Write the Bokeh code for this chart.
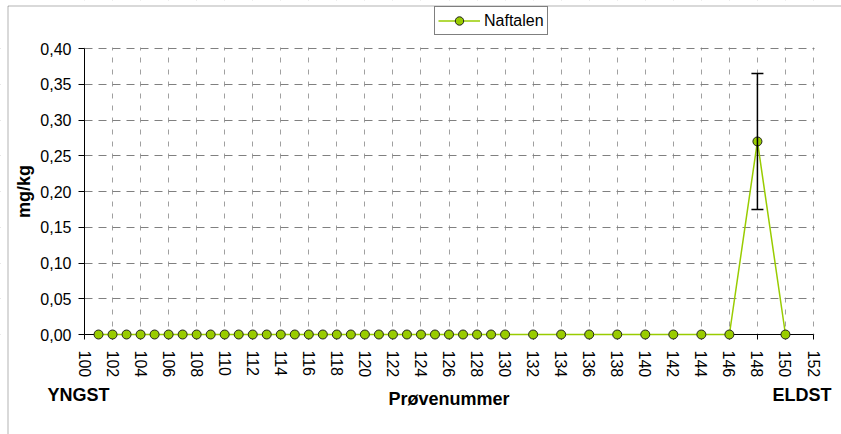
from bokeh.plotting import figure
from bokeh.models import (Range1d, FixedTicker, CustomJSTickFormatter, Legend, LegendItem,
                          Whisker, ColumnDataSource, TeeHead, BoxAnnotation, Label)
from bokeh.embed import file_html
from bokeh.resources import INLINE
import math

# ---- data ----
sample_no = [101, 102, 103, 104, 105, 106, 107, 108, 109, 110,
             111, 112, 113, 114, 115, 116, 117, 118, 119, 120,
             121, 122, 123, 124, 125, 126, 127, 128, 129, 130,
             132, 134, 136, 138, 140, 142, 144, 146, 148, 150]
naftalen = [0.0, 0.0, 0.0, 0.0, 0.0, 0.0, 0.0, 0.0, 0.0, 0.0,
            0.0, 0.0, 0.0, 0.0, 0.0, 0.0, 0.0, 0.0, 0.0, 0.0,
            0.0, 0.0, 0.0, 0.0, 0.0, 0.0, 0.0, 0.0, 0.0, 0.0,
            0.0, 0.0, 0.0, 0.0, 0.0, 0.0, 0.0, 0.0, 0.27, 0.0]
err_x = [148]
err_upper = [0.365]
err_lower = [0.175]

x_ticks = [100, 102, 104, 106, 108, 110, 112, 114, 116, 118, 120, 122, 124, 126,
           128, 130, 132, 134, 136, 138, 140, 142, 144, 146, 148, 150, 152]
x_tick_labels = ["100", "102", "104", "106", "108", "110", "112", "114", "116", "118",
                 "120", "122", "124", "126", "128", "130", "132", "134", "136", "138",
                 "140", "142", "144", "146", "148", "150", "152"]
y_ticks = [0.0, 0.05, 0.1, 0.15, 0.2, 0.25, 0.3, 0.35, 0.4]
y_tick_labels = ["0,00", "0,05", "0,10", "0,15", "0,20", "0,25", "0,30", "0,35", "0,40"]

series_name = "Naftalen"
x_title = "Prøvenummer"
y_title = "mg/kg"
left_note = "YNGST"
right_note = "ELDST"

FONT = "Liberation Sans"
GREEN = "#99CC00"

# ---- layout (pixels) ----
W, H = 841, 434
X0, X1 = x_ticks[0], x_ticks[-1]          # axis span
Y0, Y1 = y_ticks[0], y_ticks[-1]
PX_L, PX_R = 84, 813                       # pixel position of X0, X1
PY_B, PY_T = 334, 48                       # pixel position of Y0, Y1
sx = (PX_R - PX_L) / (X1 - X0)
sy = (PY_B - PY_T) / (Y1 - Y0)
x_lo, x_hi = X0 - PX_L / sx, X1 + (W - PX_R) / sx
y_lo, y_hi = Y0 - (H - PY_B) / sy, Y1 + PY_T / sy


def px_x(px):
    return x_lo + px / sx


def px_y(py):
    return y_hi - py / sy


p = figure(width=W, height=H, output_backend="svg", toolbar_location=None,
           x_range=Range1d(x_lo, x_hi), y_range=Range1d(y_lo, y_hi),
           min_border=0, min_border_left=0, min_border_right=0,
           min_border_top=0, min_border_bottom=0)
p.outline_line_color = None
p.background_fill_color = "white"
p.border_fill_color = "white"

# grids
p.xgrid.ticker = FixedTicker(ticks=x_ticks)
p.xgrid.grid_line_color = "#A0A0A0"
p.xgrid.grid_line_dash = "5 7"
p.ygrid.ticker = FixedTicker(ticks=y_ticks)
p.ygrid.grid_line_color = "#808080"
p.ygrid.grid_line_dash = "8 6"

# white masks so the grid only covers the data area
for kw in (dict(right=X0), dict(left=X1 + 1.0 / sx), dict(bottom=Y1 + 1.0 / sy), dict(top=Y0)):
    p.add_layout(BoxAnnotation(fill_color="white", fill_alpha=1, line_color=None,
                               level="underlay", **kw))

# outer chart border
p.add_layout(BoxAnnotation(left=px_x(7.5), top=px_y(5.5), right=x_hi + 5, bottom=y_lo - 1,
                           fill_alpha=0, line_color="black", line_width=1, level="annotation"))

# x axis
xa = p.xaxis[0]
xa.fixed_location = 0
xa.bounds = (X0, X1)
xa.ticker = FixedTicker(ticks=x_ticks)
xa.major_label_overrides = {t: l for t, l in zip(x_ticks, x_tick_labels)}
xa.major_label_orientation = -math.pi / 2
xa.major_tick_in = 0
xa.major_tick_out = 5
xa.minor_tick_out = 0
xa.minor_tick_in = 0
xa.major_label_standoff = 11
xa.major_label_text_font = FONT
xa.major_label_text_font_size = "16px"
xa.major_label_text_color = "black"
xa.axis_line_color = "black"
xa.major_tick_line_color = "black"
xa.axis_label = x_title
xa.axis_label_text_font = FONT
xa.axis_label_text_font_size = "18px"
xa.axis_label_text_font_style = "bold"
xa.axis_label_text_color = "black"
xa.axis_label_standoff = 9

# y axis
ya = p.yaxis[0]
ya.fixed_location = X0
ya.bounds = (Y0, Y1)
ya.ticker = FixedTicker(ticks=y_ticks)
ya.formatter = CustomJSTickFormatter(code="return tick.toFixed(2).replace('.', ',');")
ya.major_label_overrides = {t: l for t, l in zip(y_ticks, y_tick_labels)}
ya.major_tick_in = 0
ya.major_tick_out = 6
ya.minor_tick_out = 0
ya.minor_tick_in = 0
ya.major_label_standoff = 7
ya.major_label_text_font = FONT
ya.major_label_text_font_size = "16px"
ya.major_label_text_color = "black"
ya.axis_line_color = "black"
ya.axis_label = y_title
ya.axis_label_text_font = FONT
ya.axis_label_text_font_size = "18px"
ya.axis_label_text_font_style = "bold"
ya.axis_label_text_color = "black"
ya.axis_label_standoff = 3

# series
src = ColumnDataSource(dict(x=sample_no, y=naftalen))
line_r = p.line("x", "y", source=src, line_color=GREEN, line_width=1.5, level="overlay")

esrc = ColumnDataSource(dict(x=err_x, upper=err_upper, lower=err_lower))
wh = Whisker(base="x", upper="upper", lower="lower", source=esrc,
             line_color="black", line_width=1.5, level="overlay",
             upper_head=TeeHead(size=12, line_color="black", line_width=1.5),
             lower_head=TeeHead(size=12, line_color="black", line_width=1.5))
p.add_layout(wh)

pts_r = p.scatter("x", "y", source=src, size=9, fill_color=GREEN,
                  line_color="#222222", line_width=1, level="overlay")

legend = Legend(items=[LegendItem(label=series_name, renderers=[line_r, pts_r])],
                location=(434, H - 35), orientation="vertical",
                border_line_color="black", border_line_width=1,
                background_fill_color="white", background_fill_alpha=1,
                label_text_font=FONT, label_text_font_size="16px",
                label_text_color="black",
                glyph_width=42, glyph_height=21, label_standoff=4,
                padding=3, margin=0, spacing=0)
p.add_layout(legend, "center")

for txt, xpix in ((left_note, 47), (right_note, 772)):
    p.add_layout(Label(x=px_x(xpix), y=px_y(394.5), text=txt,
                       text_font=FONT, text_font_size="18px",
                       text_font_style="bold", text_color="black",
                       text_baseline="middle"))

open("out.html", "w").write(file_html(p, INLINE))
